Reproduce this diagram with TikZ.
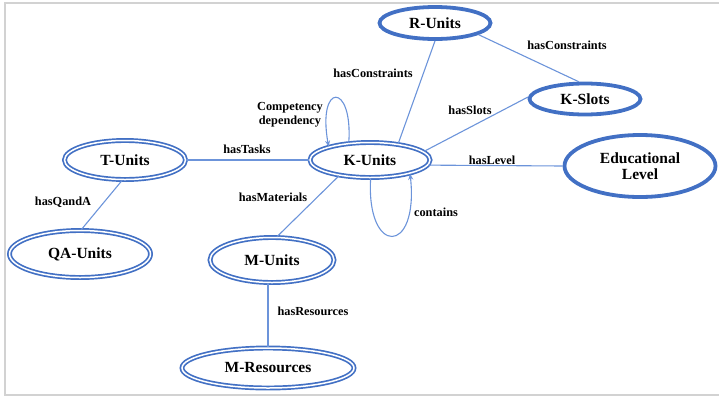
\documentclass[tikz,border=0pt]{standalone}
\usepackage{fontspec}
\setmainfont{Liberation Serif}
\usetikzlibrary{shapes.geometric,arrows.meta}
\definecolor{ecol}{RGB}{66,112,196}
\definecolor{lcol}{RGB}{108,148,218}
\definecolor{fcol}{RGB}{210,210,210}
\tikzset{
  x=1pt,y=-1pt,
  dbl/.style={ellipse, draw=ecol, line width=1.7pt, double=white, double distance=1.5pt, inner sep=0pt,
    font=\bfseries\fontsize{15.5}{16}\selectfont, align=center},
  sgl/.style={ellipse, draw=ecol, line width=3.8pt, inner sep=0pt,
    font=\bfseries\fontsize{15.5}{16}\selectfont, align=center},
  conn/.style={draw=lcol, line width=1.1pt},
  lbl/.style={font=\bfseries\fontsize{12.3}{14}\selectfont, align=center, inner sep=0pt},
}
\begin{document}
\begin{tikzpicture}
\useasboundingbox (0,0) rectangle (719,397);
% frame
\draw[fcol, line width=1.4pt] (719,3) -- (5,3) -- (5,395) -- (719,395);

% nodes
\node[sgl, minimum width=111pt, minimum height=32pt] (r) at (435,23) {R-Units};
\node[sgl, minimum width=111pt, minimum height=31pt] (ks) at (585,99) {K-Slots};
\node[dbl, minimum width=120pt, minimum height=35pt] (k) at (370,160) {K-Units};
\node[sgl, minimum width=151pt, minimum height=62pt] (el) at (640,166) {Educational\\Level};
\node[dbl, minimum width=121pt, minimum height=39pt] (t) at (125,160) {T-Units};
\node[dbl, minimum width=141pt, minimum height=47pt] (qa) at (80,254) {QA-Units};
\node[dbl, minimum width=124pt, minimum height=45pt] (m) at (272,260) {M-Units};
\node[dbl, minimum width=172pt, minimum height=40pt] (mr) at (268,368) {M-Resources};

% connectors
\draw[conn] (t) -- (k);
\draw[conn] (t.262) -- (qa.87);
\draw[conn] (k.207) -- (m.78);
\draw[conn] (m.south -| mr.north) -- (mr.north);
\draw[conn] (k.30) -- (r.270);
\draw[conn] (r.-15) -- (ks.110);
\draw[conn] (k.9) -- (ks.178);
\draw[conn] (k.-5) -- (el.180);
\draw[conn, -{Stealth[length=6pt,width=5pt]}] (k.141) .. controls (353,82) and (317,82) .. (k.162);
\draw[conn, -{Stealth[length=6pt,width=5pt]}] (k.272) .. controls (366,256) and (419,256) .. (k.-19);

% labels
\node[lbl] (l1) at (247,149) {hasTasks};
\node[lbl] (l2) at (63,202) {hasQandA};
\node[lbl] (l3) at (273,197) {hasMaterials};
\node[lbl] (l4) at (313,311) {hasResources};
\node[lbl] (l5) at (373,73) {hasConstraints};
\node[lbl] (l6) at (567,45) {hasConstraints};
\node[lbl] (l7) at (470,110) {hasSlots};
\node[lbl] (l8) at (492,160) {hasLevel};
\node[lbl] (l9) at (290,115) {Competency\\dependency};
\node[lbl] (l10) at (436,212) {contains};
\end{tikzpicture}
\end{document}
